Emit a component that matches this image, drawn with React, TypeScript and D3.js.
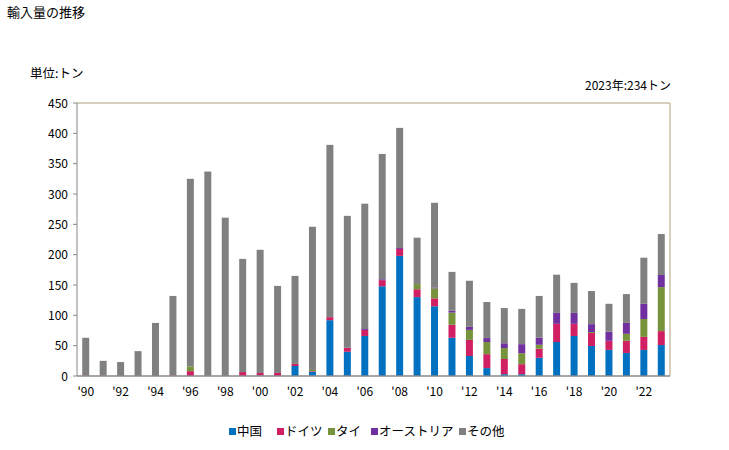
import React from "react";
import * as d3 from "d3";

const years = d3.range(1990, 2024);
const china = [0,0,0,0,0,0,0,0,0,0,1,0,16.5,7,92,40,66,148,198,130,115,63,33,13,3,3,30,56,66,49.5,43,38,43,51];
const germany = [1,1,0,0,0,1,8,1,0,6.5,4,5,3.5,1,5,6.5,10,10,11.5,13,13,21.5,26.5,23,25,16.5,15,30,20,21.5,15,20,21.5,23];
const thai = [0,0,0,0,0,0,8,0,0,0,0,0,0,2,0,0,0,0,0,8.5,16.5,20,16.5,20,18,18,6.5,0,0,1.5,0,11.5,29.5,72.5];
const austria = [0,0,0,0,0,0,0,0,0,0,0,0,0,0,0,0,1.5,1.5,1.5,0,1.5,3,5,6.5,8,15,11.5,18,18,13,15,18,25,20];
const totals = [63,25,23,41,87.5,132,325,337,261,193,208,148.5,165,246,381,264,284,366,409,228,285.5,171.6,157,122,112,110.6,132,167,153.5,140,119,135,195,234];
const others = totals.map((t, i) => t - china[i] - germany[i] - thai[i] - austria[i]);

const seriesNames = ["中国", "ドイツ", "タイ", "オーストリア", "その他"];
const seriesColors = ["#0070C0", "#D01F63", "#77933C", "#7030A0", "#808080"];
const yTicks = [0, 50, 100, 150, 200, 250, 300, 350, 400, 450];

const FONT = "'Noto Sans CJK JP', 'Noto Sans', sans-serif";

export default function App() {
  const W = 729, H = 450;
  const left = 77, right = 670, top = 103, bottom = 376;
  const x = d3.scaleBand<number>().domain(years).range([left, right]).paddingInner(0.6).paddingOuter(0.3);
  const y = d3.scaleLinear().domain([0, 450]).range([bottom, top]);
  const rows = years.map((yr, i) => ({ year: yr, s0: china[i], s1: germany[i], s2: thai[i], s3: austria[i], s4: others[i] }));
  const stack = d3.stack<any>().keys(["s0", "s1", "s2", "s3", "s4"]);
  const layers = stack(rows);
  const legendX = [229, 277, 328, 371, 459];

  return (
    <svg width={W} height={H} style={{ position: "absolute", left: 0, top: 0, fontFamily: FONT }}>
      <rect width={W} height={H} fill="#fff" />
      <text x={7} y={17} fontSize={13} fill="#000">輸入量の推移</text>
      <text x={30} y={78} fontSize={12.5} fill="#000">単位:トン</text>
      <text x={671} y={90} fontSize={12} fill="#000" textAnchor="end">2023年:234トン</text>
      {/* plot frame */}
      <line x1={left} x2={right} y1={top} y2={top} stroke="#C8BFA5" strokeWidth={1.5} />
      <line x1={right} x2={right} y1={top} y2={bottom} stroke="#C8BFA5" strokeWidth={1.5} />
      {layers.map((layer, li) => (
        <g key={li} fill={seriesColors[li]}>
          {layer.map((d, i) => {
            const h = y(d[0]) - y(d[1]);
            if (h <= 0) return null;
            return <rect key={i} x={x(years[i])!} width={x.bandwidth()} y={y(d[1])} height={h} />;
          })}
        </g>
      ))}
      <line x1={left} x2={left} y1={top} y2={bottom} stroke="#888" strokeWidth={1} />
      <line x1={left} x2={right} y1={bottom} y2={bottom} stroke="#888" strokeWidth={1.5} />
      {yTicks.map((t) => (
        <g key={t}>
          <line x1={left - 4} x2={left} y1={y(t)} y2={y(t)} stroke="#888" />
          <text x={68} y={y(t) + 4.5} fontSize={12} textAnchor="end" fill="#000">{t}</text>
        </g>
      ))}
      {years.filter((yr) => yr % 2 === 0).map((yr) => (
        <text key={yr} x={x(yr)! + x.bandwidth() / 2} y={396} fontSize={12} textAnchor="middle" fill="#000">
          {"'" + String(yr).slice(2)}
        </text>
      ))}
      {seriesNames.map((n, i) => (
        <g key={n}>
          <rect x={legendX[i]} y={428} width={7} height={7} fill={seriesColors[i]} />
          <text x={legendX[i] + 8} y={436} fontSize={12.5} fill="#000">{n}</text>
        </g>
      ))}
    </svg>
  );
}
